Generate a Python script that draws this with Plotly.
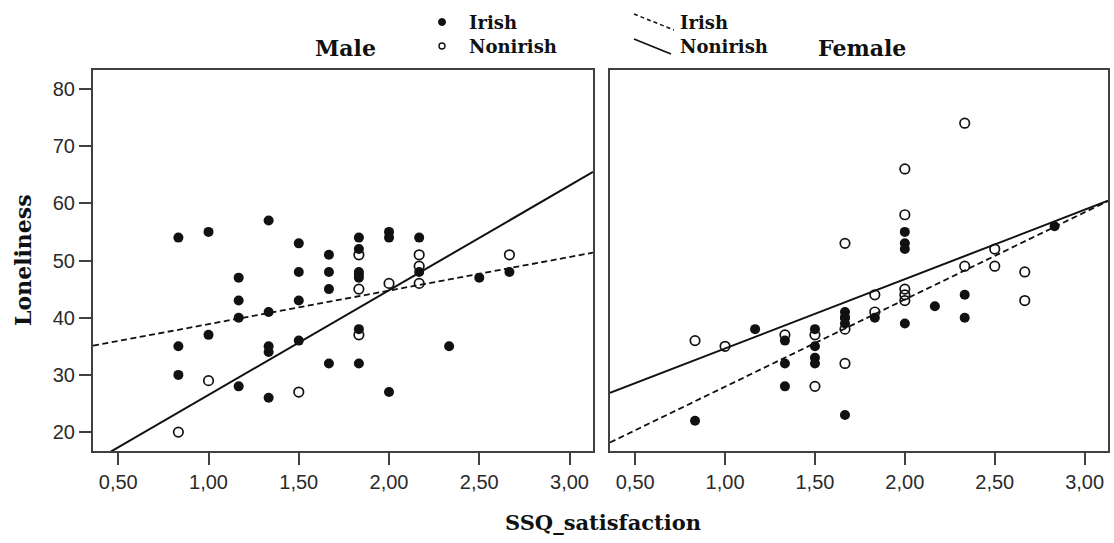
import plotly.graph_objects as go

W, H = 1114, 543

# ---------------- data ----------------
# Male, Irish (filled)
male_irish_x = [0.833, 0.833, 0.833, 1.0, 1.0, 1.167, 1.167, 1.167, 1.167,
                1.333, 1.333, 1.333, 1.333, 1.333, 1.5, 1.5, 1.5, 1.5,
                1.667, 1.667, 1.667, 1.667, 1.833, 1.833, 1.833, 1.833, 1.833, 1.833, 1.833,
                2.0, 2.0, 2.0, 2.167, 2.167, 2.333, 2.5, 2.667]
male_irish_y = [54, 35, 30, 55, 37, 47, 43, 40, 28,
                57, 41, 35, 34, 26, 53, 48, 43, 36,
                51, 48, 45, 32, 54, 52, 48, 47.5, 47, 38, 32,
                55, 54, 27, 54, 48, 35, 47, 48]
# Male, Nonirish (open)
male_non_x = [0.833, 1.0, 1.5, 1.833, 1.833, 1.833, 2.0, 2.167, 2.167, 2.167, 2.667]
male_non_y = [20, 29, 27, 51, 45, 37, 46, 51, 49, 46, 51]

# Female, Irish (filled)
female_irish_x = [0.833, 1.167, 1.333, 1.333, 1.333, 1.5, 1.5, 1.5, 1.5,
                  1.667, 1.667, 1.667, 1.667, 1.667, 1.833,
                  2.0, 2.0, 2.0, 2.0, 2.167, 2.333, 2.333, 2.833]
female_irish_y = [22, 38, 36, 32, 28, 38, 35, 33, 32,
                  41, 40, 40, 39, 23, 40,
                  55, 53, 52, 39, 42, 44, 40, 56]
# Female, Nonirish (open)
female_non_x = [0.833, 1.0, 1.333, 1.5, 1.5, 1.667, 1.667, 1.667, 1.833, 1.833,
                2.0, 2.0, 2.0, 2.0, 2.0, 2.333, 2.333, 2.5, 2.5, 2.667, 2.667]
female_non_y = [36, 35, 37, 37, 28, 53, 38, 32, 44, 41,
                66, 58, 45, 44, 43, 74, 49, 52, 49, 48, 43]

# fitted regression lines (intercept, slope)
fit_names = ["Male Irish", "Male Nonirish", "Female Irish", "Female Nonirish"]
fit_intercepts = [33.0, 8.2, 12.7, 22.5]
fit_slopes = [5.87, 18.3, 15.24, 12.12]

x_tick_vals = [0.5, 1.0, 1.5, 2.0, 2.5, 3.0]
x_tick_text = ["0,50", "1,00", "1,50", "2,00", "2,50", "3,00"]
y_tick_vals = [20, 30, 40, 50, 60, 70, 80]

panel_titles = ["Male", "Female"]
legend_labels = ["Irish", "Nonirish"]

X_RANGE = [0.36, 3.13]
Y_RANGE = [16.7, 83.3]

# ---------------- helpers ----------------
def px(xp):
    return xp / W

def py(yp):
    return 1 - yp / H

INK = "#111111"
AXC = "#404040"
SERIF = "DejaVu Serif"
SANS = "Liberation Sans"

fig = go.Figure()

def add_points(xs, ys, filled, xa, ya):
    if filled:
        marker = dict(symbol="circle", size=10, color=INK)
    else:
        marker = dict(symbol="circle-open", size=9.5, color=INK, line=dict(width=1.7, color=INK))
    fig.add_trace(go.Scatter(x=xs, y=ys, mode="markers", marker=marker,
                             xaxis=xa, yaxis=ya, showlegend=False, hoverinfo="x+y"))

def add_fit(i, dashed, xa, ya):
    xs = X_RANGE
    ys = [fit_intercepts[i] + fit_slopes[i] * v for v in xs]
    fig.add_trace(go.Scatter(x=xs, y=ys, mode="lines", name=fit_names[i],
                             line=dict(color=INK, width=1.8 if dashed else 2,
                                       dash="6px,3.5px" if dashed else "solid"),
                             xaxis=xa, yaxis=ya, showlegend=False, hoverinfo="skip"))

# Male panel
add_fit(0, True, "x", "y")
add_fit(1, False, "x", "y")
add_points(male_irish_x, male_irish_y, True, "x", "y")
add_points(male_non_x, male_non_y, False, "x", "y")
# Female panel
add_fit(2, True, "x2", "y2")
add_fit(3, False, "x2", "y2")
add_points(female_irish_x, female_irish_y, True, "x2", "y2")
add_points(female_non_x, female_non_y, False, "x2", "y2")

ydom = [py(451), py(70)]
common_x = dict(range=X_RANGE, tickvals=x_tick_vals, ticktext=x_tick_text,
                showline=True, linecolor=AXC, linewidth=2, mirror=True,
                ticks="outside", ticklen=12, tickwidth=2, tickcolor=AXC,
                showgrid=False, zeroline=False,
                tickfont=dict(family=SANS, size=20, color="#2a2a2a"))
common_y = dict(range=Y_RANGE, tickvals=y_tick_vals,
                showline=True, linecolor=AXC, linewidth=2, mirror=True,
                showgrid=False, zeroline=False, domain=ydom)

fig.update_layout(
    width=W, height=H,
    margin=dict(l=0, r=0, t=0, b=0),
    paper_bgcolor="white", plot_bgcolor="white",
    xaxis=dict(domain=[px(93), px(593)], anchor="y", **common_x),
    xaxis2=dict(domain=[px(610), px(1108)], anchor="y2", **common_x),
    yaxis=dict(anchor="x", ticks="outside", ticklen=12, tickwidth=2, tickcolor=AXC,
               tickfont=dict(family=SANS, size=20, color="#2a2a2a"), **common_y),
    yaxis2=dict(anchor="x2", matches="y", ticks="", showticklabels=False, **common_y),
    showlegend=False,
)

annotations = []
shapes = []
# panel titles
annotations.append(dict(text=panel_titles[0], x=px(345), y=py(48), xref="paper", yref="paper",
                        showarrow=False, xanchor="center", yanchor="middle",
                        font=dict(family=SERIF, size=22, color=INK, weight="bold")))
annotations.append(dict(text=panel_titles[1], x=px(862), y=py(48), xref="paper", yref="paper",
                        showarrow=False, xanchor="center", yanchor="middle",
                        font=dict(family=SERIF, size=22, color=INK, weight="bold")))
# axis titles
annotations.append(dict(text="Loneliness", x=px(23), y=py(260), xref="paper", yref="paper",
                        showarrow=False, xanchor="center", yanchor="middle", textangle=-90,
                        font=dict(family=SERIF, size=22, color=INK, weight="bold")))
annotations.append(dict(text="SSQ_satisfaction", x=px(603), y=py(522), xref="paper", yref="paper",
                        showarrow=False, xanchor="center", yanchor="middle",
                        font=dict(family=SERIF, size=21, color=INK, weight="bold")))

# legend: markers
leg_rows = [22, 46]
for j, lab in enumerate(legend_labels):
    yy = leg_rows[j]
    annotations.append(dict(text=lab, x=px(467), y=py(yy), xref="paper", yref="paper",
                            showarrow=False, xanchor="left", yanchor="middle",
                            font=dict(family=SERIF, size=18, color=INK, weight="bold")))
    annotations.append(dict(text=lab, x=px(678), y=py(yy), xref="paper", yref="paper",
                            showarrow=False, xanchor="left", yanchor="middle",
                            font=dict(family=SERIF, size=18, color=INK, weight="bold")))
# filled legend dot
shapes.append(dict(type="circle", xref="paper", yref="paper", xsizemode="pixel", ysizemode="pixel",
                   xanchor=px(442), yanchor=py(22), x0=-3.5, x1=3.5, y0=-3.5, y1=3.5,
                   fillcolor=INK, line=dict(color=INK, width=1)))
# open legend dot
shapes.append(dict(type="circle", xref="paper", yref="paper", xsizemode="pixel", ysizemode="pixel",
                   xanchor=px(442), yanchor=py(46), x0=-3, x1=3, y0=-3, y1=3,
                   fillcolor="white", line=dict(color=INK, width=1.4)))
# legend line samples (diagonal)
shapes.append(dict(type="line", xref="paper", yref="paper",
                   x0=px(634), y0=py(14), x1=px(674), y1=py(30),
                   line=dict(color=INK, width=1.5, dash="4px,3px")))
shapes.append(dict(type="line", xref="paper", yref="paper",
                   x0=px(634), y0=py(39), x1=px(671), y1=py(54),
                   line=dict(color=INK, width=1.8)))

fig.update_layout(annotations=annotations, shapes=shapes)

fig.write_html("out.html")
